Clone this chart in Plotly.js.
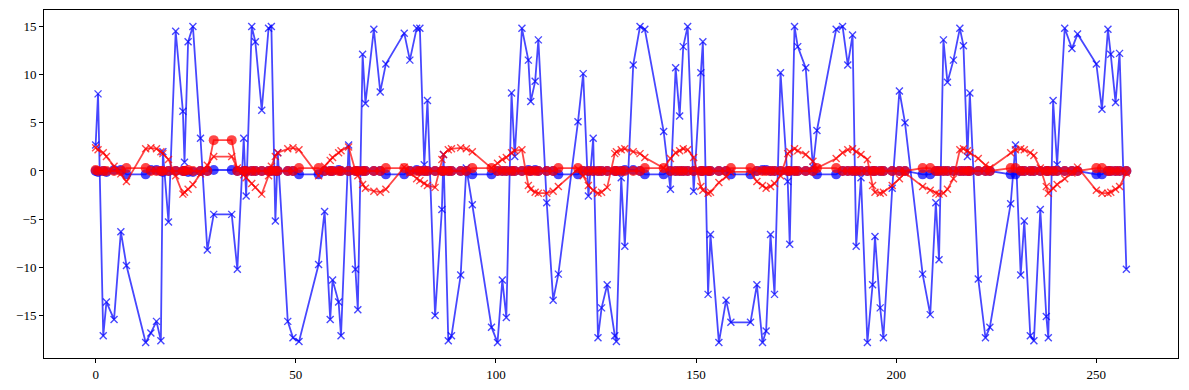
<!DOCTYPE html>
<html>
<head>
<meta charset="utf-8">
<script src="https://cdn.plot.ly/plotly-3.0.1.min.js"></script>
<style>html,body{margin:0;padding:0;background:#fff;}#chart{width:1189px;height:390px;}</style>
</head>
<body>
<div id="chart"></div>
<script>
const xs = [0.0,0.6,1.9,2.7,4.6,6.3,7.7,12.5,13.8,15.2,16.3,16.8,18.2,20.0,21.8,22.2,23.1,24.3,26.2,27.9,29.5,34.0,35.4,37.0,37.6,39.0,39.9,41.5,43.2,43.9,44.9,45.5,48.0,49.3,50.8,55.7,57.2,58.6,59.2,60.7,61.3,63.2,64.9,65.5,66.7,67.4,69.5,71.1,72.5,77.1,78.5,80.2,81.0,82.1,82.9,84.8,86.5,86.9,88.1,88.9,91.2,92.6,94.1,98.9,100.4,101.6,102.6,103.9,104.7,106.5,108.1,108.7,109.8,110.6,112.7,114.3,115.6,120.5,121.8,123.1,124.3,125.5,126.4,127.8,129.7,130.1,131.3,132.2,134.3,136.0,137.2,141.9,143.6,144.9,145.9,146.8,147.9,149.4,151.2,151.7,153.0,153.6,155.7,157.5,158.7,163.6,165.2,166.6,167.5,168.6,169.6,171.1,172.9,173.4,174.6,175.4,177.4,179.2,180.2,185.0,186.6,187.9,189.1,190.0,191.2,192.8,194.1,194.7,196.0,196.8,199.0,200.8,202.2,206.6,208.5,209.9,210.7,211.8,212.8,214.3,215.9,216.8,217.8,218.4,220.5,222.3,223.4,228.6,229.8,231.1,232.0,233.5,234.4,236.0,237.5,238.0,239.2,240.2,242.1,243.9,245.3,250.0,251.4,252.9,253.6,254.8,255.8,257.5];

const blueX = [2.7,8.0,-17.1,-13.6,-15.4,-6.3,-9.8,-17.8,-16.8,-15.6,-17.6,2.0,-5.3,14.5,6.2,0.9,13.4,15.0,3.4,-8.2,-4.5,-4.5,-10.2,3.4,-2.6,15.0,13.4,6.3,14.8,15.0,-5.2,1.9,-15.6,-17.3,-17.7,-9.7,-4.2,-15.4,-11.3,-13.6,-17.1,2.7,-10.2,-14.4,12.1,7.0,14.7,8.2,11.1,14.3,11.5,14.8,14.8,0.65,7.3,-15.0,-4.0,1.7,-17.6,-17.1,-10.8,0.3,-3.5,-16.2,-17.8,-11.3,-15.2,8.1,1.5,14.8,11.5,7.2,9.3,13.6,-3.3,-13.4,-10.7,5.1,10.1,-2.6,3.4,-17.3,-14.2,-11.8,-17.1,-17.7,-0.7,-7.8,11.0,15.0,14.7,4.1,-1.9,10.7,5.7,12.9,15.0,-2.1,10.2,13.4,-12.8,-6.6,-17.8,-13.4,-15.7,-15.7,-11.8,-17.8,-16.6,-6.6,-12.8,10.2,-1.1,-7.6,15.0,12.9,10.7,0.4,4.2,14.7,15.0,11.0,14.1,-7.8,-0.7,-17.8,-11.8,-6.8,-14.2,-17.3,-1.8,8.3,5.0,-10.7,-14.9,-3.3,-9.2,13.6,9.2,11.5,14.8,13.0,1.5,8.1,-11.2,-17.3,-16.2,-3.4,2.7,-10.8,-5.2,-17.1,-17.6,-4.0,-15.1,-17.3,7.3,0.65,14.8,12.7,14.2,11.1,6.4,14.7,12.1,7.1,12.2,-10.2];

const redX = [2.4,2.2,1.9,1.5,0.5,-0.3,-1.1,2.3,2.4,2.3,2.0,1.8,1.2,-0.5,-2.4,-2.2,-1.9,-1.4,-0.3,0.6,1.5,1.5,0.3,-0.4,-0.7,-1.3,-1.7,-2.4,-0.5,0.5,1.5,1.9,2.3,2.4,2.2,-0.5,0.5,1.1,1.4,1.9,2.1,2.5,0.0,-0.5,-1.4,-1.8,-2.1,-2.2,-1.9,0.4,-0.2,-0.8,-1.0,-1.3,-1.5,-1.7,1.2,1.7,2.2,2.3,2.4,2.3,2.0,0.3,0.8,1.2,1.4,1.9,2.1,2.2,-1.5,-1.9,-2.2,-2.3,-2.3,-2.1,-1.6,0.2,-0.5,-1.5,-2.0,-2.3,-2.2,-1.7,1.8,2.0,2.2,2.3,2.0,1.8,1.4,0.3,1.3,1.9,2.1,2.3,2.2,1.4,-1.6,-2.0,-2.3,-2.2,-1.2,-0.6,-0.1,-0.1,-1.1,-1.5,-1.8,-1.6,-1.3,-0.5,1.8,2.0,2.3,2.1,1.7,1.0,0.3,1.3,1.9,2.2,2.3,2.0,1.7,1.2,-1.5,-2.2,-2.3,-2.2,-1.5,-0.8,-0.2,-1.6,-2.0,-2.3,-2.4,-2.3,-1.9,-0.8,2.2,2.3,2.1,1.9,1.3,0.6,0.3,1.9,2.2,2.3,2.2,1.9,1.6,0.3,-1.6,-2.3,-1.8,-1.4,-0.8,-0.2,0.4,-2.0,-2.3,-2.3,-2.2,-1.9,-1.6,-0.2];

const blueO = [0.0,-0.1,0.0,-0.1,0.1,0.1,-0.35,-0.35,0.1,0.1,0.0,-0.1,0.0,0.0,0.0,0.0,-0.1,-0.1,0.0,0.0,0.1,0.1,0.0,0.0,0.0,0.0,0.0,0.0,0.0,0.0,0.0,0.0,0.0,0.0,-0.35,-0.35,0.0,0.0,0.0,0.1,0.0,0.0,0.0,0.0,0.0,0.0,0.0,0.0,-0.35,-0.35,0.0,0.1,0.0,0.0,0.0,0.0,0.0,0.0,0.0,0.0,0.0,0.0,-0.35,-0.35,0.0,0.0,0.0,0.0,0.0,0.0,0.1,0.0,0.1,0.0,0.0,0.0,-0.35,-0.35,0.0,0.0,0.0,0.0,0.0,0.0,0.0,0.0,0.0,0.1,0.1,0.0,-0.35,-0.35,0.0,0.0,0.0,0.0,0.0,0.0,0.0,0.0,0.0,0.0,0.0,0.0,-0.35,-0.35,0.0,0.1,0.1,0.0,0.0,0.0,0.0,0.0,0.0,0.0,0.0,0.0,-0.35,-0.35,0.0,0.0,0.0,0.0,0.0,0.0,0.0,0.0,0.0,0.0,0.0,0.0,0.0,-0.35,-0.35,0.0,0.0,0.0,0.0,0.0,0.0,0.0,0.0,0.0,0.0,0.0,0.0,-0.35,-0.35,0.0,0.0,0.0,0.0,0.0,0.0,0.0,0.0,0.0,0.0,0.0,0.0,-0.35,-0.35,0.0,0.0,0.0,0.0,0.0,0.0];

const redO = [0.1,0.0,0.0,0.0,0.0,0.0,0.3,0.3,0.0,0.0,0.0,0.0,0.0,0.0,0.0,0.0,0.1,0.0,0.0,0.0,3.2,3.2,0.0,0.0,0.0,0.0,0.0,0.0,0.0,0.0,0.0,0.0,0.0,0.0,0.3,0.3,0.0,0.0,0.0,0.0,0.0,0.0,0.0,0.0,0.0,0.0,0.0,0.0,0.3,0.3,0.0,0.0,0.0,0.0,0.0,0.0,0.0,0.0,0.0,0.0,0.0,0.0,0.3,0.3,0.0,0.0,0.0,0.0,0.0,0.0,0.0,0.0,0.0,0.0,0.0,0.0,0.3,0.3,0.0,0.0,0.0,0.0,0.0,0.0,0.0,0.0,0.0,0.0,0.0,0.0,0.3,0.3,0.0,0.0,0.0,0.0,0.0,0.0,0.0,0.0,0.0,0.0,0.0,0.0,0.3,0.3,0.0,0.0,0.0,0.0,0.0,0.0,0.0,0.0,0.0,0.0,0.0,0.0,0.3,0.3,0.0,0.0,0.0,0.0,0.0,0.0,0.0,0.0,0.0,0.0,0.0,0.0,0.0,0.3,0.3,0.0,0.0,0.0,0.0,0.0,0.0,0.0,0.0,0.0,0.0,0.0,0.0,0.3,0.3,0.0,0.0,0.0,0.0,0.0,0.0,0.0,0.0,0.0,0.0,0.0,0.0,0.3,0.3,0.0,0.0,0.0,0.0,0.0,0.0];

const xTicks = [0,50,100,150,200,250];
const yTicks = [-15,-10,-5,0,5,10,15];

const BLUE = 'rgba(0,0,255,0.72)';
const RED = 'rgba(255,0,0,0.72)';

const traces = [
  {x: xs, y: blueX, mode: 'lines+markers', line: {color: BLUE, width: 1.8},
   marker: {symbol: 'x-thin', size: 7, line: {color: BLUE, width: 1.4}, color: BLUE}},
  {x: xs, y: blueO, mode: 'lines+markers', line: {color: BLUE, width: 1.8},
   marker: {symbol: 'circle', size: 10, color: BLUE}},
  {x: xs, y: redX, mode: 'lines+markers', line: {color: RED, width: 1.8},
   marker: {symbol: 'x-thin', size: 7, line: {color: RED, width: 1.4}, color: RED}},
  {x: xs, y: redO, mode: 'lines+markers', line: {color: RED, width: 1.8},
   marker: {symbol: 'circle', size: 10, color: RED}}
];

const axisCommon = {
  showgrid: false, zeroline: false, showline: true, mirror: true,
  linecolor: '#000', linewidth: 1, ticks: 'outside', ticklen: 4, tickwidth: 1, tickcolor: '#000',
  tickfont: {family: 'Liberation Serif, serif', size: 13, color: '#000'}
};

const layout = {
  width: 1189, height: 390,
  margin: {l: 44, r: 11, t: 10, b: 32},
  paper_bgcolor: '#fff', plot_bgcolor: '#fff',
  showlegend: false,
  xaxis: Object.assign({}, axisCommon, {range: [-12.9, 270.4], tickmode: 'array', tickvals: xTicks, ticktext: xTicks.map(String)}),
  yaxis: Object.assign({}, axisCommon, {range: [-19.4, 16.7], tickmode: 'array', tickvals: yTicks, ticktext: yTicks.map(v => v < 0 ? '\u2212' + Math.abs(v) : String(v))})
};

Plotly.newPlot('chart', traces, layout, {staticPlot: true, displayModeBar: false});
</script>
</body>
</html>
